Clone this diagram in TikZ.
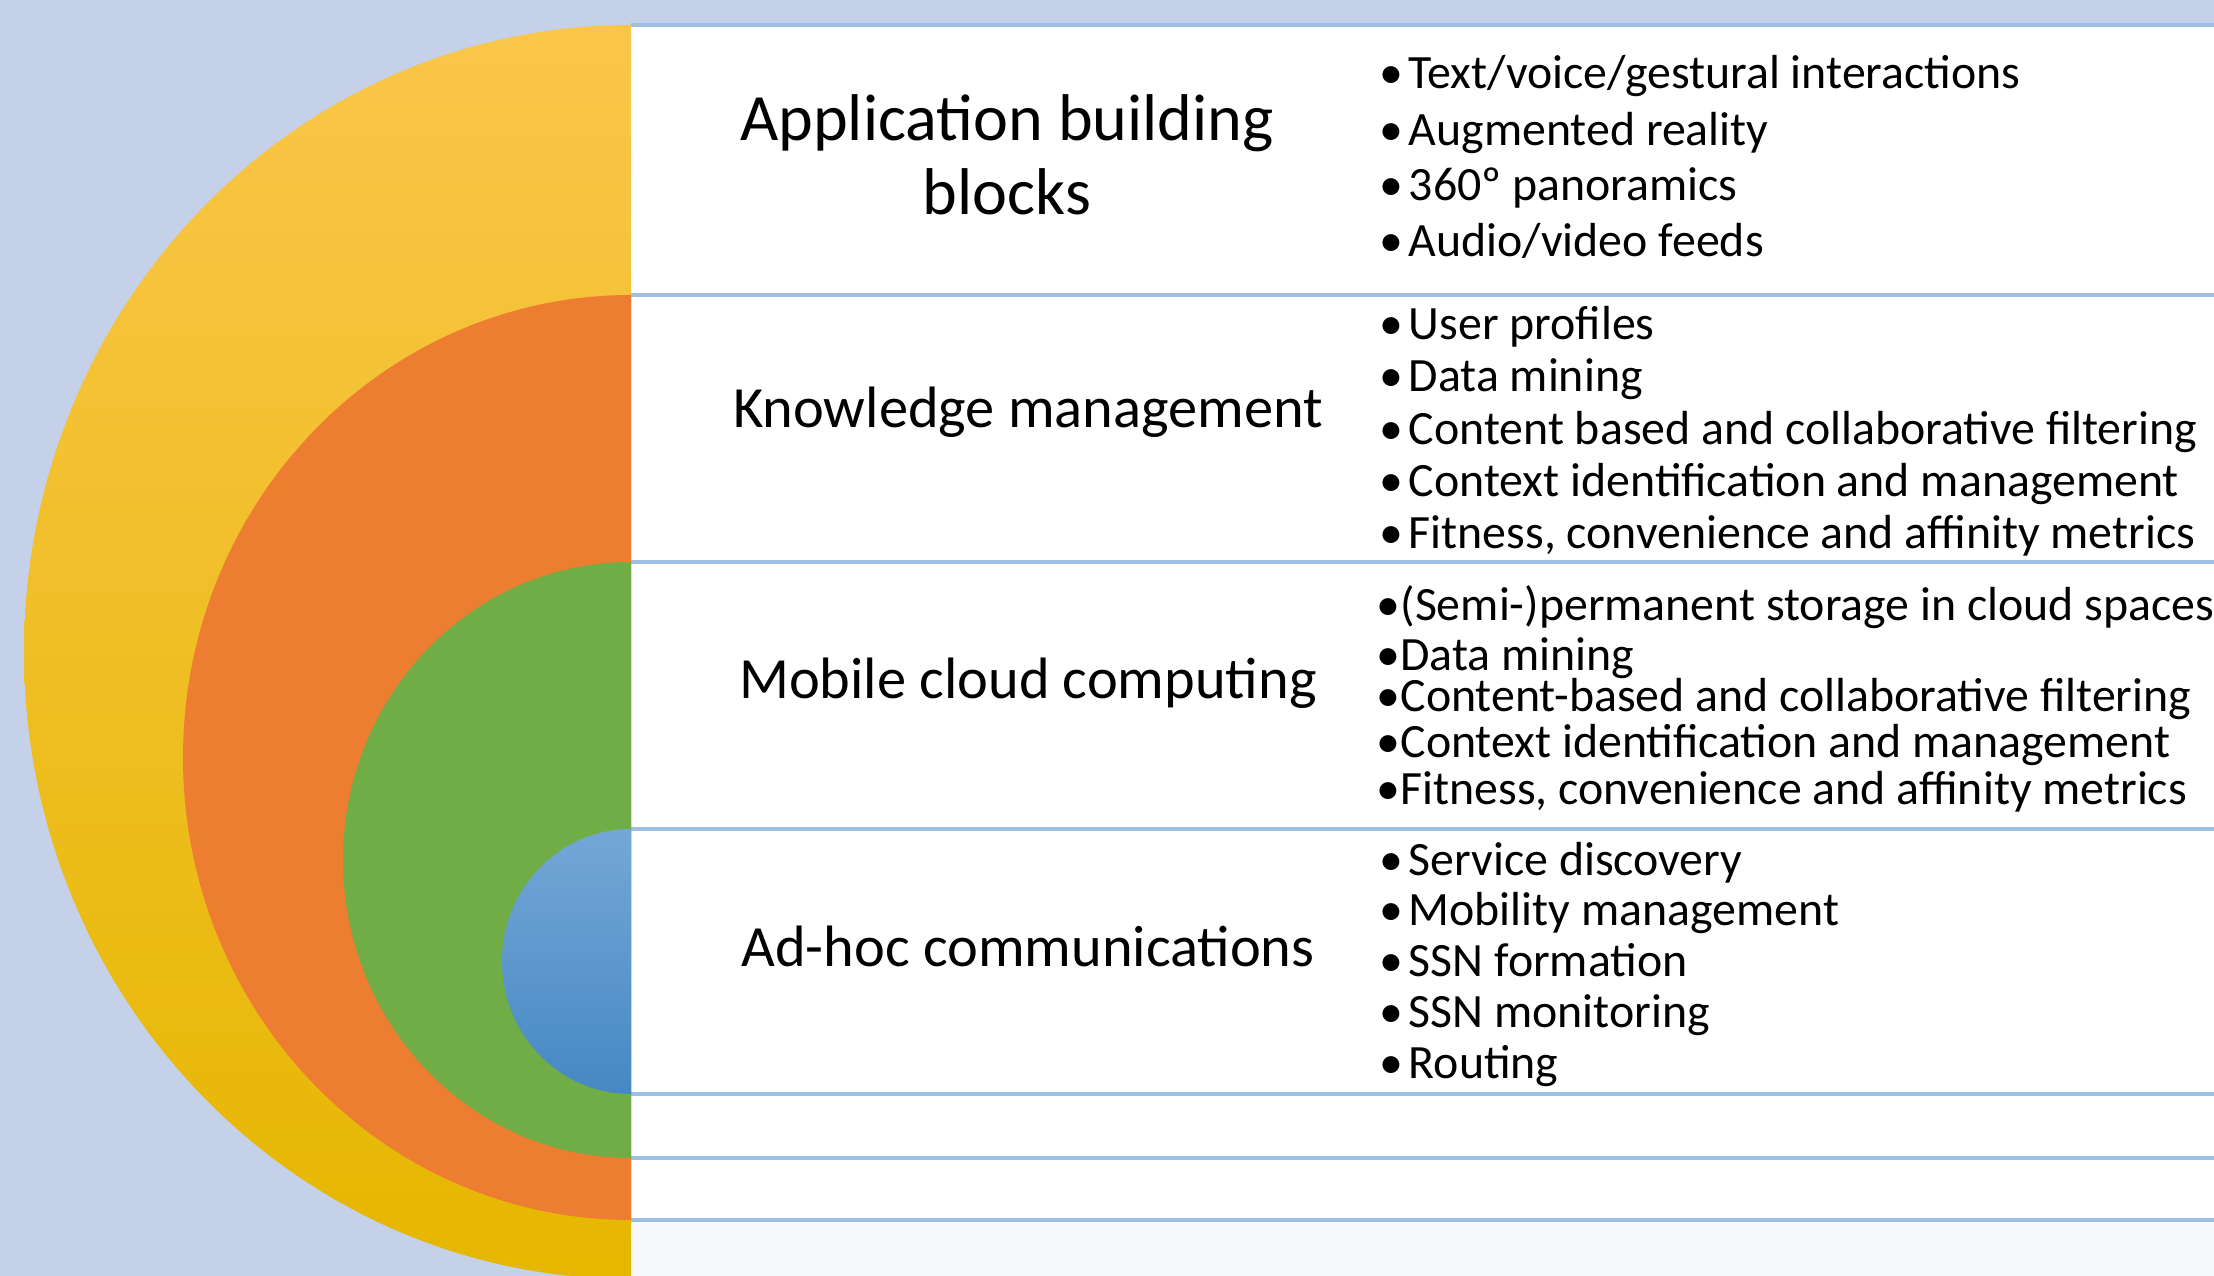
\documentclass[tikz,border=0pt]{standalone}
\usepackage{fontspec}
\setmainfont{Carlito}
\usetikzlibrary{positioning}
\definecolor{skyback}{RGB}{196,209,232}
\definecolor{panelgray}{RGB}{248,249,251}
\definecolor{rulecol}{RGB}{157,192,226}
\definecolor{ringorange}{RGB}{237,125,49}
\definecolor{ringgreen}{RGB}{112,173,71}

\begin{document}
\begin{tikzpicture}[x=0.01cm,y=0.01cm,
    title/.style={font=\fontsize{16.6}{20.8}\selectfont, align=center, inner sep=0pt},
    item/.style={font=\fontsize{13.6}{16}\selectfont, anchor=base west, inner sep=0pt},
    rule/.style={draw=rulecol, line width=0.9pt}]
  % canvas and table panel
  \useasboundingbox (0,0) rectangle (2214,-1276);
  \fill[skyback] (0,0) rectangle (2214,-1276);
  \fill[white] (631,-25) rectangle (2214,-1220);
  \fill[panelgray] (631,-1220) rectangle (2214,-1276);
  \foreach \yy in {25,295,562,829,1094,1158,1220}
    \draw[rule] (631,-\yy) -- (2214,-\yy);
  % nested half discs, outermost first
  \shade[top color={rgb,255:red,250;green,198;blue,74}, middle color={rgb,255:red,253;green,197;blue,36},
         bottom color={rgb,255:red,229;green,183;blue,0}]
    (631,-25) arc[start angle=90, end angle=270, x radius=607, y radius=627] -- cycle;
  \fill[ringorange] (631,-295) arc[start angle=90, end angle=270, x radius=448, y radius=462.5] -- cycle;
  \fill[ringgreen] (631,-562) arc[start angle=90, end angle=270, x radius=288, y radius=298] -- cycle;
  \shade[top color={rgb,255:red,116;green,167;blue,214}, bottom color={rgb,255:red,70;green,136;blue,196}]
    (631,-829) arc[start angle=90, end angle=270, x radius=129, y radius=132.5] -- cycle;
  % layer titles
  \node[title, font=\fontsize{18.8}{20.9}\selectfont] (apps) at (1007,-155) {Application building\\blocks};
  \node[title, anchor=base] (know) at (1028,-427) {Knowledge management};
  \node[title, anchor=base] (cloud) at (1028,-698) {Mobile cloud computing};
  \node[title, anchor=base] (adhoc) at (1028,-966) {Ad-hoc communications};
  % building blocks
  \node[item] (a1) at (1379,-89) {\textbullet\hspace{1.5pt}Text/voice/gestural interactions};
  \node[item] (a2) at (1379,-146) {\textbullet\hspace{1.5pt}Augmented reality};
  \node[item] (a3) at (1379,-201) {\textbullet\hspace{1.5pt}360º panoramics};
  \node[item] (a4) at (1379,-257) {\textbullet\hspace{1.5pt}Audio/video feeds};
  % knowledge management
  \node[item] (k1) at (1379,-340) {\textbullet\hspace{1.5pt}User profiles};
  \node[item] (k2) at (1379,-392) {\textbullet\hspace{1.5pt}Data mining};
  \node[item] (k3) at (1379,-444) {\textbullet\hspace{1.5pt}Content based and collaborative filtering};
  \node[item] (k4) at (1379,-496) {\textbullet\hspace{1.5pt}Context identification and management};
  \node[item] (k5) at (1379,-548) {\textbullet\hspace{1.5pt}Fitness, convenience and affinity metrics};
  % cloud
  \node[item] (c1) at (1376,-620) {\textbullet(Semi-)permanent storage in cloud spaces};
  \node[item] (c2) at (1376,-670) {\textbullet Data mining};
  \node[item] (c3) at (1376,-711) {\textbullet Content-based and collaborative filtering};
  \node[item] (c4) at (1376,-757) {\textbullet Context identification and management};
  \node[item] (c5) at (1376,-804) {\textbullet Fitness, convenience and affinity metrics};
  % ad-hoc layer
  \node[item] (h1) at (1379,-875) {\textbullet\hspace{1.5pt}Service discovery};
  \node[item] (h2) at (1379,-925) {\textbullet\hspace{1.5pt}Mobility management};
  \node[item] (h3) at (1379,-976) {\textbullet\hspace{1.5pt}SSN formation};
  \node[item] (h4) at (1379,-1027) {\textbullet\hspace{1.5pt}SSN monitoring};
  \node[item] (h5) at (1379,-1078) {\textbullet\hspace{1.5pt}Routing};
\end{tikzpicture}
\end{document}
